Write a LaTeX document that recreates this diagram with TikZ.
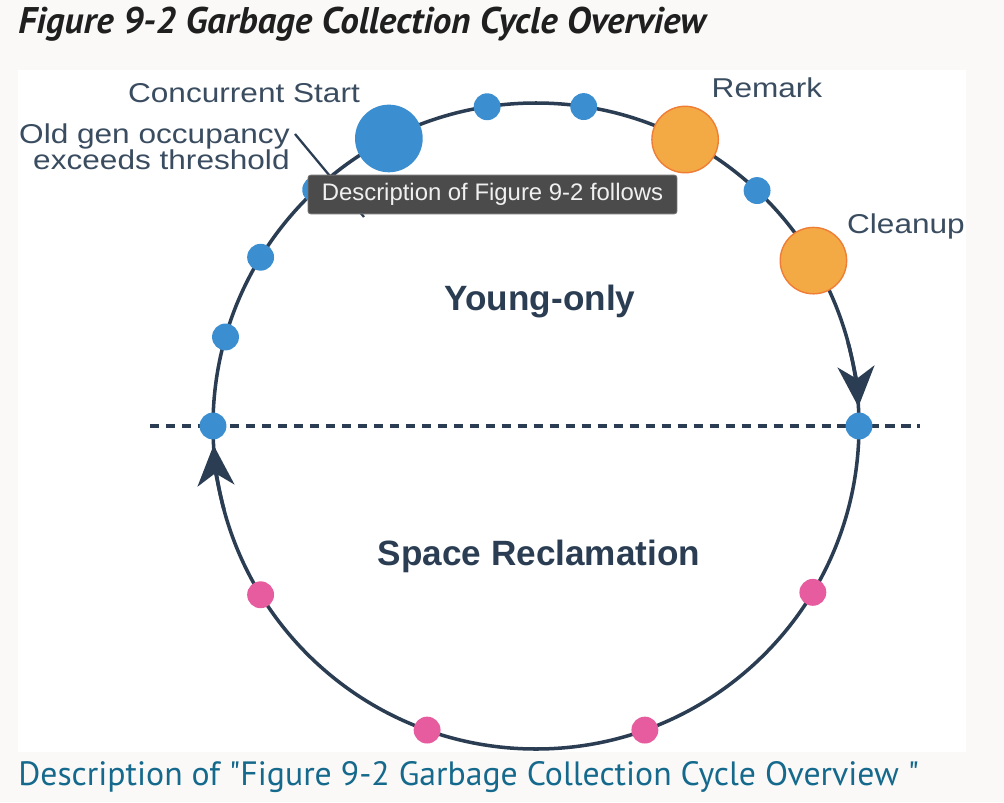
\documentclass[tikz,border=0pt]{standalone}
\usepackage{fontspec}
\usetikzlibrary{arrows.meta}
\newfontfamily\lblfont[FakeStretch=1.16]{Liberation Sans}
\newfontfamily\phasefont{Liberation Sans}
\newfontfamily\pagefont{PT Sans}
\definecolor{pagebg}{HTML}{FAF9F8}
\definecolor{ring}{HTML}{2B3D52}
\definecolor{lbltext}{HTML}{3A4C60}
\definecolor{gcblue}{HTML}{3B8ED0}
\definecolor{gcorange}{HTML}{F3AA45}
\definecolor{gcorangeedge}{HTML}{EF7D35}
\definecolor{gcpink}{HTML}{E65C9F}
\definecolor{tipbg}{HTML}{4B4B4B}
\definecolor{linkteal}{HTML}{15698C}
\tikzset{
  pause/.style={circle, fill=gcblue, inner sep=0pt, minimum size=15.3pt},
  bigpause/.style={pause, minimum size=38.5pt},
  phasedot/.style={circle, fill=gcorange, draw=gcorangeedge, line width=0.8pt, inner sep=0pt, minimum size=37.8pt},
  mixed/.style={pause, fill=gcpink},
  lbl/.style={font=\lblfont\fontsize{15.5}{15}\selectfont, text=lbltext, inner sep=0pt},
  phaselbl/.style={font=\phasefont\bfseries\fontsize{20}{24}\selectfont, text=ring, inner sep=0pt},
  flow/.style={ring, line width=2pt, -{Stealth[length=23pt, width=21pt, inset=7pt]}},
}

\begin{document}
\begin{tikzpicture}[x=0.02cm, y=0.02cm]
  \useasboundingbox (-536,-376) rectangle (468,426);
  \fill[pagebg] (-536,-376) rectangle (468,426);
  \fill[white] (-518,-326) rectangle (430,356);

  \draw[ring, line width=2pt] (0,0) circle[radius=323];
  \coordinate (divl) at (-386,0);
  \coordinate (divr) at (384,0);
  \draw[ring, line width=2.2pt, dash pattern=on 5.3pt off 3.8pt] (divl) -- (divr);
  \draw[flow] (15:323) arc[start angle=15, end angle=3.4, radius=323];
  \draw[flow] (195:323) arc[start angle=195, end angle=183.4, radius=323];

  \node[pause] (p1) at (180:323) {};
  \node[pause] (p2) at (164:323) {};
  \node[pause] (p3) at (148.5:323) {};
  \node[pause] (p4) at (133:323) {};
  \node[bigpause] (start) at (117.1:323) {};
  \node[pause] (p5) at (98.7:323) {};
  \node[pause] (p6) at (81.5:323) {};
  \node[phasedot] (remark) at (62.5:323) {};
  \node[pause] (p7) at (46.8:323) {};
  \node[phasedot] (cleanup) at (30.8:323) {};
  \node[pause] (p8) at (0:323) {};
  \node[mixed] (m1) at (-31:323) {};
  \node[mixed] (m2) at (-70.3:323) {};
  \node[mixed] (m3) at (-109.7:323) {};
  \node[mixed] (m4) at (-148.5:323) {};

  \node[lbl, anchor=base] (cslbl) at (-292,324) {Concurrent Start};
  \node[lbl, anchor=north east, align=right] (occ) at (-246,303) {Old gen occupancy\\exceeds threshold};
  \coordinate (trig) at (-172,209);
  \draw[ring, line width=1.3pt] ([shift={(5,-11)}]occ.north east) -- (trig);
  \node[lbl, anchor=base] (remarklbl) at (231,329) {Remark};
  \node[lbl, anchor=base] (cleanuplbl) at (370,193) {Cleanup};
  \node[phaselbl, anchor=base] (young) at (4,116) {Young-only};
  \node[phaselbl, anchor=base] (reclaim) at (3,-139) {Space Reclamation};

  \node[fill=tipbg, draw=black!55, line width=0.5pt, rounded corners=1.5pt, minimum width=210pt, minimum height=22pt, inner sep=0pt, text=white!94!black, font=\phasefont\fontsize{13.6}{16}\selectfont] (tip) at (-43.5,231.5) {Description of Figure 9-2 follows};

  \node[anchor=base west, inner sep=0pt, font=\pagefont\bfseries\itshape\fontsize{21.1}{25}\selectfont, text=black!88] (title) at (-518,393) {Figure 9-2 Garbage Collection Cycle Overview};
  \node[anchor=base west, inner sep=0pt, font=\pagefont\fontsize{19.2}{23}\selectfont, text=linkteal] (desc) at (-518,-359) {Description of "Figure 9-2 Garbage Collection Cycle Overview "};
\end{tikzpicture}
\end{document}
